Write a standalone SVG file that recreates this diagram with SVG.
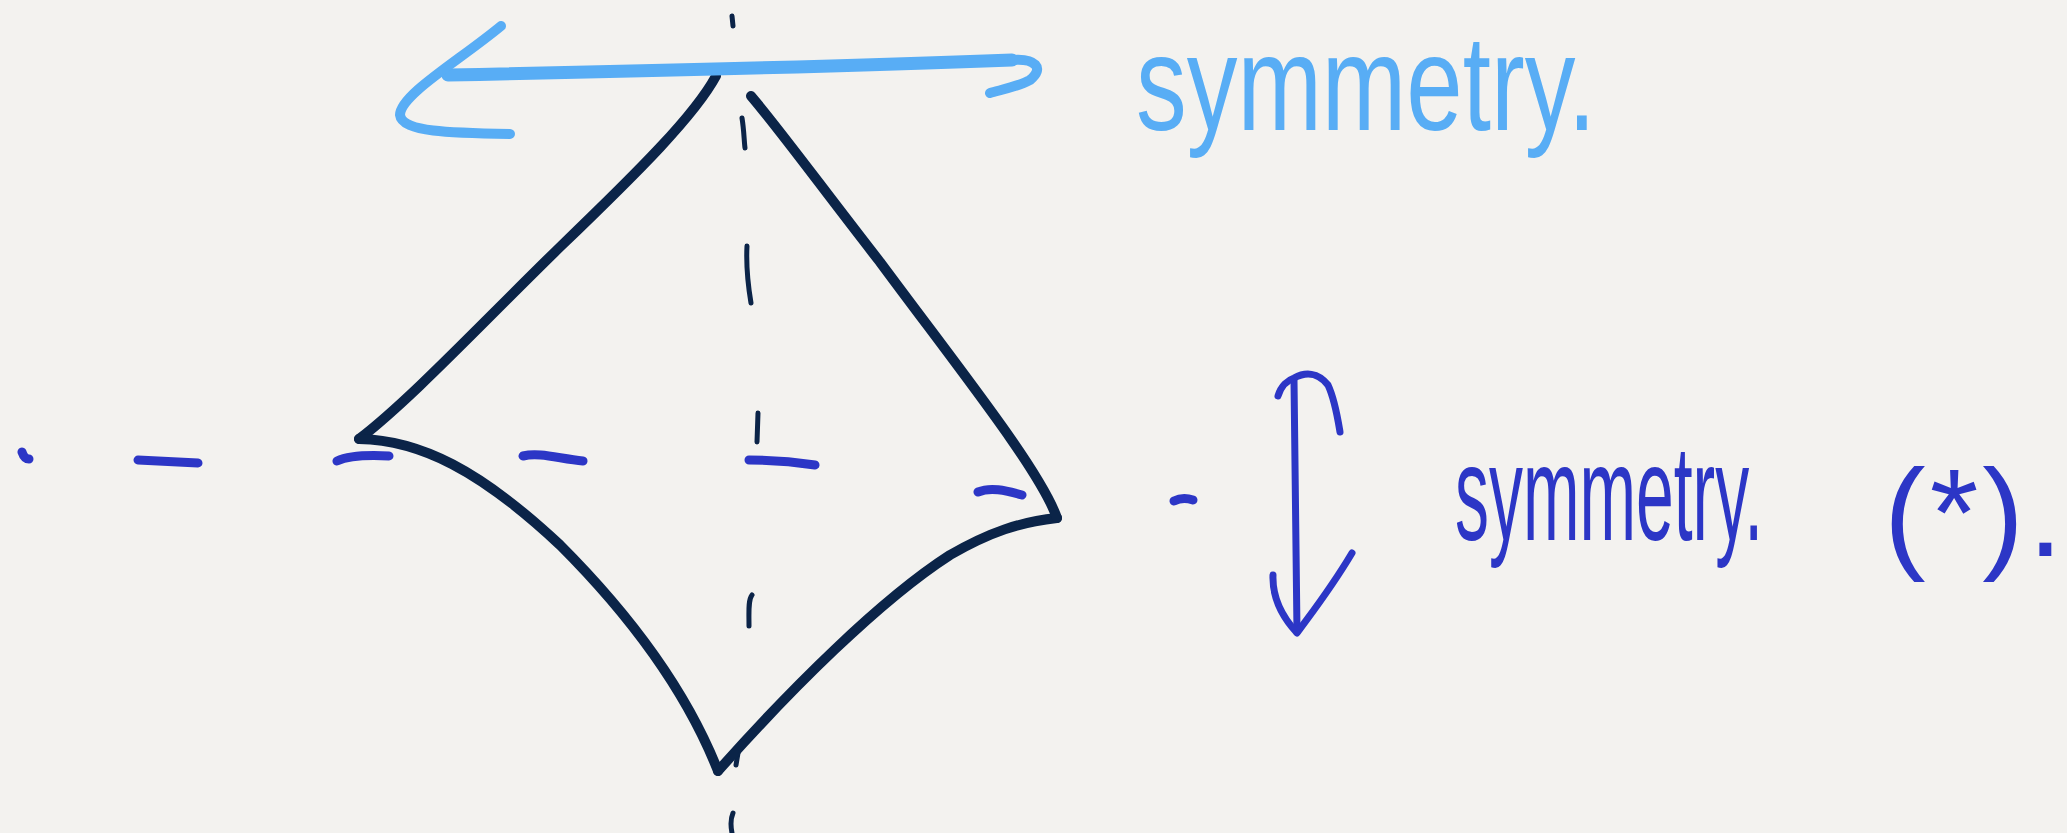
<svg xmlns="http://www.w3.org/2000/svg" width="2067" height="833" viewBox="0 0 2067 833">
<style>
.bg{fill:#f3f2ef}
.shape{fill:none;stroke:#0b2448;stroke-width:10;stroke-linecap:round;stroke-linejoin:round}
.axis{fill:none;stroke:#0b2448;stroke-width:5;stroke-linecap:round}
.dash{fill:none;stroke:#2c36c6;stroke-width:9;stroke-linecap:round}
.light{fill:none;stroke:#58adf5;stroke-width:10;stroke-linecap:round;stroke-linejoin:round}
.lightline{fill:none;stroke:#58adf5;stroke-width:13;stroke-linecap:round}
.dark{fill:none;stroke:#2c36c6;stroke-width:7;stroke-linecap:round;stroke-linejoin:round}
.t1{font-family:"Liberation Sans",Arial,sans-serif;fill:#58adf5}
.t2{font-family:"Liberation Sans",Arial,sans-serif;fill:#2c36c6}
</style>
<rect class="bg" x="0" y="0" width="2067" height="833"/>
<g id="vertical-axis">
<path class="axis" d="M732,16 L733,26 M742,118 C744,130 744,140 745,148 M747,246 C746,265 748,285 751,303 M758,413 L757,442 M752,595 C748,600 749,612 749,626 M739,747 L736,765 M733,813 C730,820 731,828 732,833"/>
</g>
<g id="horizontal-axis">
<path class="dash" d="M22,452 C24,458 27,459 29,459 M138,460 L198,463 M337,461 C350,455 370,455 389,456 M523,456 C540,452 560,459 583,461 M749,460 C770,460 795,462 815,465 M978,492 C990,487 1005,490 1022,495"/>
</g>
<g id="astroid">
<path class="shape" d="M716,76 C695,115 640,170 560,247 C480,325 410,400 359,439"/>
<path class="shape" d="M359,439 C420,440 480,470 560,545 C640,625 690,700 718,771"/>
<path class="shape" d="M718,771 C790,690 880,600 950,555 C990,532 1020,522 1057,518"/>
<path class="shape" d="M1057,518 C1040,470 960,370 880,262 C820,185 780,130 751,96"/>
</g>
<g id="connectors">
<g id="horizontal-arrow">
<path class="lightline" d="M448,75 C600,72 800,68 1012,60"/>
<path class="light" d="M501,26 C460,60 400,95 400,115 C402,132 450,133 510,134"/>
<path class="light" d="M1012,60 C1035,58 1045,68 1030,80 C1020,86 1000,90 990,93"/>
</g>
<g id="vertical-arrow">
<path class="dark" d="M1294,380 L1297,632"/>
<path class="dark" d="M1278,396 C1281,386 1288,380 1294,378 C1305,372 1318,372 1328,385 C1335,400 1338,420 1340,432"/>
<path class="dark" d="M1273,575 C1272,600 1285,620 1297,633 M1352,553 C1330,590 1310,615 1297,633"/>
<path class="dash" d="M1174,501 C1180,498 1187,498 1193,500"/>
</g>
</g>
<g id="label-top">
<text class="t1" x="1136" y="130" font-size="135" textLength="460" lengthAdjust="spacingAndGlyphs">symmetry.</text>
</g>
<g id="label-right">
<text class="t2" x="1455" y="540" font-size="135" textLength="308" lengthAdjust="spacingAndGlyphs">symmetry.</text>
<text class="t2" x="1884" y="556" font-size="125" letter-spacing="4">(*).</text>
</g>
</svg>
